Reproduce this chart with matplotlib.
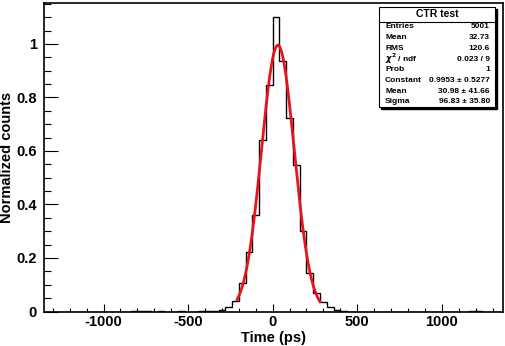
import numpy as np
import matplotlib
matplotlib.use('Agg')
import matplotlib.pyplot as plt
from matplotlib.patches import Rectangle
from matplotlib.ticker import MultipleLocator

plt.rcParams['font.family'] = ['Liberation Sans', 'DejaVu Sans']
plt.rcParams['font.weight'] = 'bold'
plt.rcParams['axes.unicode_minus'] = False

## histogram (40 ps bins), normalized counts
bin_lo = [-840, -800, -760, -680, -560, -440, -400, -360, -320, -280, -240, -200,
          -160, -120, -80, -40, 0, 40, 80, 120, 160, 200, 240, 280, 320, 360, 400, 1160, 1200]
heights = [0.002, 0.003, 0.002, 0.002, 0.002, 0.002, 0.003, 0.003, 0.006, 0.016, 0.039, 0.105,
           0.221, 0.361, 0.641, 0.847, 1.102, 0.936, 0.725, 0.548, 0.302, 0.145, 0.068,
           0.037, 0.018, 0.005, 0.002, 0.002, 0.002]
bin_width = 40
x_range = (-1360, 1360)

## gaus fit result (from stats box)
fit_const, fit_mean, fit_sigma = 0.9953, 30.98, 96.83
fit_range = (-210, 280)

stats_title = 'CTR test'
stats_rows = [('Entries', '5001'), ('Mean', '32.73'), ('RMS', '120.6'),
              (r'$\chi^2$ / ndf', '0.023 / 9'), ('Prob', '1'),
              ('Constant', '0.9953 ± 0.5277'), ('Mean', '30.98 ± 41.66'),
              ('Sigma', '96.83 ± 35.80')]

edges = np.arange(x_range[0], x_range[1] + bin_width, bin_width)
h = np.zeros(len(edges) - 1)
for lo, v in zip(bin_lo, heights):
    h[int((lo - x_range[0]) // bin_width)] = v

fig = plt.figure(figsize=(5.05, 3.46), dpi=100)
ax = fig.add_axes([44/505, 1 - 311.5/346, (503 - 44)/505, (311.5 - 3)/346])

ax.stairs(h, edges, color='black', lw=1.0, baseline=0)
xf = np.linspace(fit_range[0], fit_range[1], 300)
ax.plot(xf, fit_const*np.exp(-0.5*((xf - fit_mean)/fit_sigma)**2), color='#e8141c', lw=2.0)

ax.set_xlim(-1352, 1362)
ax.set_ylim(0, 1.153)
ax.xaxis.set_major_locator(MultipleLocator(500))
ax.xaxis.set_minor_locator(MultipleLocator(100))
ax.yaxis.set_major_locator(MultipleLocator(0.2))
ax.yaxis.set_minor_locator(MultipleLocator(0.05))
ax.set_yticks([0, 0.2, 0.4, 0.6, 0.8, 1])
ax.set_yticklabels(['0', '0.2', '0.4', '0.6', '0.8', '1'])
ax.tick_params(axis='x', which='major', direction='in', length=6, width=0.8, pad=2.5, labelsize=10.5)
ax.tick_params(axis='x', which='minor', direction='in', length=3, width=0.8)
ax.tick_params(axis='y', which='major', direction='in', length=10, width=0.8, pad=5, labelsize=10.5)
ax.tick_params(axis='y', which='minor', direction='in', length=5, width=0.8)
for s in ax.spines.values():
    s.set_linewidth(1.2)
ax.set_xlabel('Time (ps)', fontsize=10.5, fontweight='bold')
ax.set_ylabel('Normalized counts', fontsize=10.5, fontweight='bold')
ax.xaxis.set_label_coords(0.5, -0.062)
ax.yaxis.set_label_coords(-0.066, 0.5)

# stats box in figure pixels
def fx(px): return px/505
def fy(py): return 1 - py/346
bx0, bx1, by0, by1 = 379, 495, 7, 107
fig.patches.append(Rectangle((fx(bx0 + 2), fy(by1 + 2)), fx(bx1 - bx0), (by1 - by0)/346,
                             transform=fig.transFigure, color='black', zorder=5))
fig.patches.append(Rectangle((fx(bx0), fy(by1)), fx(bx1 - bx0), (by1 - by0)/346,
                             transform=fig.transFigure, facecolor='white', edgecolor='black',
                             lw=0.8, zorder=6))
fig.add_artist(plt.Line2D([fx(bx0), fx(bx1)], [fy(21.5), fy(21.5)], color='black', lw=0.8, zorder=7))
fig.text(fx((bx0 + bx1)/2), fy(14.3), stats_title, ha='center', va='center', fontsize=7.5,
         fontweight='bold', zorder=8)
for i, (k, v) in enumerate(stats_rows):
    yy = fy(27 + i*10.7)
    fig.text(fx(385), yy, k, ha='left', va='center', fontsize=6.0, fontweight='bold', zorder=8)
    fig.text(fx(490), yy, v, ha='right', va='center', fontsize=6.0, fontweight='bold', zorder=8)

fig.savefig('out.png', dpi=100)
